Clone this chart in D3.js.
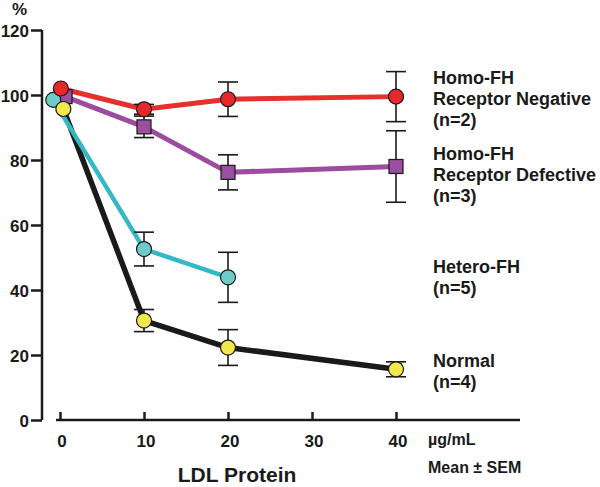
<!DOCTYPE html>
<html><head><meta charset="utf-8">
<script src="https://cdn.jsdelivr.net/npm/d3@7"></script>
<style>
body{margin:0;background:#fff;}
svg text{font-family:"Liberation Sans",Arial,sans-serif;font-weight:bold;fill:#1a1a1a;}
</style></head>
<body><svg id="c" width="600" height="487"></svg>
<script>
// ---- data ----
const xTicks = [0, 10, 20, 30, 40];
const yTicks = [0, 20, 40, 60, 80, 100, 120];

const negX = [0.1, 10, 20, 40];
const negY = [102, 95.6, 98.7, 99.5];
const negErr = [0, 1.5, 5.3, 7.7];

const defX = [0.6, 10, 20, 40];
const defY = [99.5, 90.2, 76.2, 78];
const defErr = [0, 3.3, 5.4, 11];

const hetX = [-0.8, 10, 20];
const hetY = [98.5, 52.6, 43.9];
const hetErr = [0, 5.2, 7.7];

const norX = [0.4, 10, 20, 40];
const norY = [95.7, 30.6, 22.3, 15.6];
const norErr = [0, 3.4, 5.5, 2.3];

const labelsNeg = ["Homo-FH", "Receptor Negative", "(n=2)"];
const labelsDef = ["Homo-FH", "Receptor Defective", "(n=3)"];
const labelsHet = ["Hetero-FH", "(n=5)"];
const labelsNor = ["Normal", "(n=4)"];

// ---- chart ----
const svg = d3.select("#c");
const x = d3.scaleLinear().domain([0, 40]).range([60, 396]);
const y = d3.scaleLinear().domain([0, 120]).range([420, 30]);

// y axis
const yAxis = d3.axisLeft(y).tickValues(yTicks).tickSize(11).tickPadding(2);
const gy = svg.append("g").attr("transform", "translate(42,0)").call(yAxis);
gy.select(".domain").attr("d", `M0,${y(120)}V${y(0)}`).attr("stroke", "#1a1a1a").attr("stroke-width", 2.5);
gy.selectAll(".tick line").attr("stroke", "#1a1a1a").attr("stroke-width", 2.5);
gy.selectAll(".tick text").attr("font-size", 17).attr("dy", "0.36em").attr("fill", "#1a1a1a")
  .attr("font-family", '"Liberation Sans",Arial,sans-serif').attr("font-weight", "bold");

// x axis
const xAxis = d3.axisTop(x).tickValues(xTicks).tickSize(8).tickFormat("");
const gx = svg.append("g").attr("transform", "translate(0,420)").call(xAxis);
gx.select(".domain").attr("d", "M56,0H520").attr("stroke", "#1a1a1a").attr("stroke-width", 2.5);
gx.selectAll(".tick line").attr("stroke", "#1a1a1a").attr("stroke-width", 2.5);
svg.append("g").selectAll("text").data(xTicks).join("text")
  .attr("x", d => x(d) + 2).attr("y", 447).attr("text-anchor", "middle").attr("font-size", 17)
  .text(d => d);

svg.append("text").attr("x", 12).attr("y", 15).attr("font-size", 17).text("%");
svg.append("text").attr("x", 428).attr("y", 445).attr("font-size", 16).text("µg/mL");
svg.append("text").attr("x", 428).attr("y", 473).attr("font-size", 16).text("Mean ± SEM");
svg.append("text").attr("x", 237).attr("y", 482).attr("text-anchor", "middle").attr("font-size", 21).text("LDL Protein");

const series = [
  {xs: norX, ys: norY, err: norErr, line: "#1a1a1a", fill: "#f1e94c", shape: "circle", lw: 5.5},
  {xs: hetX, ys: hetY, err: hetErr, line: "#35b8c6", fill: "#6fcbc7", shape: "circle", lw: 4.5},
  {xs: defX, ys: defY, err: defErr, line: "#9b4c9e", fill: "#9b4fa0", shape: "square", lw: 5},
  {xs: negX, ys: negY, err: negErr, line: "#e5302b", fill: "#e8272b", shape: "circle", lw: 5},
];
const markerOrder = [2, 1, 3, 0];
const pts = s => s.xs.map((v, i) => ({x: v, y: s.ys[i], e: s.err[i]}));

const line = d3.line().x(d => x(d.x)).y(d => y(d.y));
// lines
series.forEach(s => {
  svg.append("path").datum(pts(s)).attr("d", line).attr("fill", "none")
    .attr("stroke", s.line).attr("stroke-width", s.lw).attr("stroke-linejoin", "round");
});
// error bars
series.forEach(s => {
  const g = svg.append("g").attr("stroke", "#1a1a1a").attr("stroke-width", 1.6);
  pts(s).filter(d => d.e > 0).forEach(d => {
    const cx = x(d.x), t = y(d.y + d.e), b = y(d.y - d.e);
    g.append("line").attr("x1", cx).attr("x2", cx).attr("y1", t).attr("y2", b);
    g.append("line").attr("x1", cx - 10).attr("x2", cx + 10).attr("y1", t).attr("y2", t);
    g.append("line").attr("x1", cx - 10).attr("x2", cx + 10).attr("y1", b).attr("y2", b);
  });
});
// markers
markerOrder.forEach(k => {
  const s = series[k];
  pts(s).forEach(d => {
    if (s.shape === "circle") {
      svg.append("circle").attr("cx", x(d.x)).attr("cy", y(d.y)).attr("r", 7.5)
        .attr("fill", s.fill).attr("stroke", "#1a1a1a").attr("stroke-width", 1.2);
    } else {
      svg.append("rect").attr("x", x(d.x) - 7).attr("y", y(d.y) - 7).attr("width", 14).attr("height", 14)
        .attr("fill", s.fill).attr("stroke", "#1a1a1a").attr("stroke-width", 1.2);
    }
  });
});

// group labels
function label(lines, y0) {
  const t = svg.append("text").attr("x", 433).attr("y", y0).attr("font-size", 18);
  lines.forEach((l, i) => t.append("tspan").attr("x", 433).attr("dy", i ? 21 : 0).text(l));
}
label(labelsNeg, 84);
label(labelsDef, 160);
label(labelsHet, 273);
label(labelsNor, 367);
</script></body></html>
